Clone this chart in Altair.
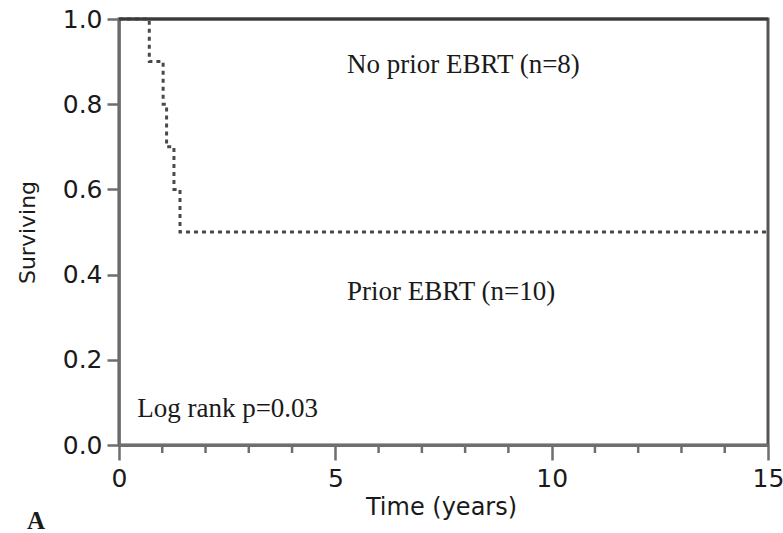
import altair as alt
import pandas as pd

# Kaplan-Meier step curve for the prior-EBRT group
prior_time = [0.0, 0.70, 1.02, 1.10, 1.27, 1.41, 15.0]
prior_surv = [1.0, 0.9, 0.8, 0.7, 0.6, 0.5, 0.5]

# No-prior-EBRT group: no events over follow-up
noprior_time = [0.0, 15.0]
noprior_surv = [1.0, 1.0]

major_years = [0, 5, 10, 15]
minor_years = [1, 2, 3, 4, 6, 7, 8, 9, 11, 12, 13, 14]
y_ticks = [0.0, 0.2, 0.4, 0.6, 0.8, 1.0]

notes_text = ["No prior EBRT (n=8)", "Prior EBRT (n=10)", "Log rank p=0.03"]
notes_x = [5.27, 5.27, 0.42]
notes_y = [0.873, 0.340, 0.066]

W, H = 649, 426
AXIS_GRAY = "#6e6e6e"
INK = "#1a1a1a"
SERIF = "Liberation Serif"
SANS = "DejaVu Sans"

prior = pd.DataFrame({"time": prior_time, "surv": prior_surv})
noprior = pd.DataFrame({"time": noprior_time, "surv": noprior_surv})
minor = pd.DataFrame({"year": minor_years})
notes = pd.DataFrame({"label": notes_text, "x": notes_x, "y": notes_y})

x_scale = alt.Scale(domain=[0, 15], nice=False, zero=False)
y_scale = alt.Scale(domain=[0, 1], nice=False)

x_axis = alt.Axis(
    values=major_years, format="d", grid=False,
    domainColor=AXIS_GRAY, domainWidth=3,
    tickColor=AXIS_GRAY, tickWidth=2.5, tickSize=15,
    labelFont=SANS, labelFontSize=25, labelColor=INK, labelPadding=6,
    labelFlush=False, labelOverlap=False,
    title="Time (years)", titleFont=SANS, titleFontSize=24,
    titleFontWeight="normal", titleColor=INK,
    titleX=322, titleY=62, titleAlign="center", titleBaseline="middle",
)
y_axis = alt.Axis(
    values=y_ticks, format=".1f", grid=False,
    domainColor=AXIS_GRAY, domainWidth=2.5,
    tickColor=AXIS_GRAY, tickWidth=2.5, tickSize=12,
    labelFont=SANS, labelFontSize=25, labelColor=INK, labelPadding=5,
    labelFlush=False, labelOverlap=False,
    title="Surviving", titleFont=SANS, titleFontSize=22,
    titleFontWeight="normal", titleColor=INK, titleAngle=270,
    titleX=-92, titleY=213, titleAlign="center", titleBaseline="middle",
)

solid = alt.Chart(noprior).mark_line(
    interpolate="step-after", color="#3a3a3a", strokeWidth=3
).encode(
    x=alt.X("time:Q", scale=x_scale, axis=x_axis),
    y=alt.Y("surv:Q", scale=y_scale, axis=y_axis),
)

dotted = alt.Chart(prior).mark_line(
    interpolate="step-after", color="#4a4a4a", strokeWidth=3,
    strokeDash=[4, 4]
).encode(
    x=alt.X("time:Q", scale=x_scale),
    y=alt.Y("surv:Q", scale=y_scale),
)

minor_ticks = alt.Chart(minor).mark_rule(color=AXIS_GRAY, strokeWidth=2.5).encode(
    x=alt.X("year:Q", scale=x_scale),
    y=alt.value(H),
    y2=alt.value(H + 8),
)

labels = alt.Chart(notes).mark_text(
    align="left", baseline="alphabetic", font=SERIF, fontSize=27, color=INK
).encode(
    x=alt.X("x:Q", scale=x_scale),
    y=alt.Y("y:Q", scale=y_scale),
    text="label:N",
)

panel_tag = alt.Chart(pd.DataFrame({"t": ["A"]})).mark_text(
    align="left", baseline="alphabetic", font=SERIF, fontSize=25,
    fontWeight="bold", color=INK
).encode(x=alt.value(-92), y=alt.value(H + 84), text="t:N")

chart = alt.layer(minor_ticks, dotted, solid, labels, panel_tag).properties(
    width=W, height=H,
    autosize=alt.AutoSizeParams(type="none"),
    padding={"left": 119, "top": 19, "right": 15, "bottom": 88},
    background="white",
).configure_view(stroke="#555555", strokeWidth=3)

chart.save("out.html", embed_options={"renderer": "svg", "actions": False})
